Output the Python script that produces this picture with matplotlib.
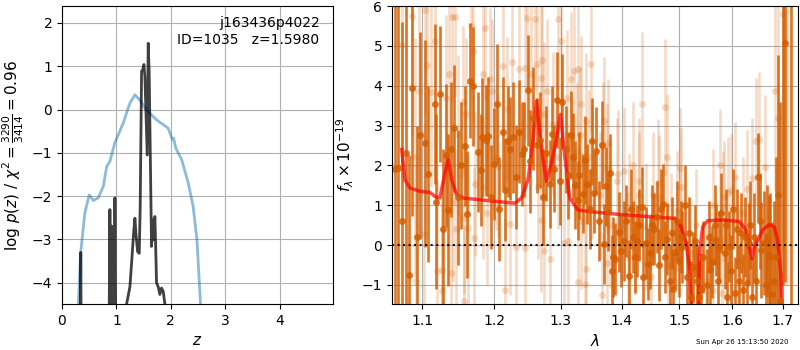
import numpy as np
import matplotlib
matplotlib.use("Agg")
import matplotlib.pyplot as plt
from matplotlib.ticker import NullLocator

# p(z) curves (left panel)
prior_z = [0.27, 0.30, 0.343, 0.42, 0.50, 0.575, 0.666, 0.76, 0.82, 0.88, 0.97,
           1.125, 1.248, 1.34, 1.43, 1.55, 1.74, 1.95, 2.03, 2.05, 2.09, 2.20,
           2.32, 2.41, 2.48, 2.545, 2.57]
prior_logp = [-5.0, -4.49, -3.31, -2.39, -1.97, -2.10, -2.04, -1.77, -1.32, -1.20, -0.77,
              -0.31, 0.15, 0.34, 0.22, -0.01, -0.24, -0.43, -0.70, -0.66, -0.89, -1.16,
              -1.70, -2.24, -3.01, -4.49, -5.0]

pz_z = [0.32, 0.335, 0.345, 0.355, 0.37,
        0.86, 0.88, 0.89, 0.90, 0.912, 0.93, 0.96, 0.972, 0.99,
        1.17, 1.187, 1.248, 1.278, 1.297, 1.32, 1.34, 1.358, 1.389, 1.419,
        1.437, 1.462, 1.47, 1.485, 1.505, 1.523, 1.566, 1.584, 1.602, 1.627,
        1.645, 1.664, 1.688, 1.706, 1.72, 1.737, 1.77, 1.798, 1.829, 1.86,
        1.89, 1.91]
pz_logp = [-6, -6, -3.3, -6, -6,
           -6, -2.31, -4.5, -4.5, -2.69, -6, -6, -2.04, -6,
           -6, -4.49, -4.09, -3.55, -3.2, -2.78, -2.51, -2.86, -3.28, -3.32,
           -2.24, 0.88, 0.9, 0.92, 1.04, 0.77, -1.05, 1.53, 0.83, -1.47,
           -3.16, -2.55, -3.01, -2.47, -3.1, -4.0, -4.1, -4.27, -4.12, -4.2,
           -4.49, -6]

# spectrum (right panel), dark beam
lam_dark = [
    1.064, 1.068, 1.073, 1.078, 1.083, 1.087, 1.093, 1.097, 1.104, 1.108,
    1.117, 1.119, 1.124, 1.128, 1.132, 1.135, 1.139, 1.143, 1.148, 1.153,
    1.158, 1.161, 1.166, 1.170, 1.176, 1.181, 1.183, 1.188, 1.191, 1.195,
    1.199, 1.204, 1.207, 1.212, 1.215, 1.220, 1.223, 1.228, 1.232, 1.237,
    1.241, 1.244, 1.250, 1.253, 1.258, 1.263, 1.268, 1.273, 1.277, 1.283,
    1.286, 1.290, 1.294, 1.299, 1.303, 1.308, 1.311, 1.316, 1.319, 1.323,
    1.327, 1.330, 1.335, 1.339, 1.343, 1.347, 1.350, 1.354, 1.357, 1.362,
    1.367, 1.370, 1.373, 1.376, 1.380, 1.383, 1.385, 1.389, 1.395, 1.398,
    1.404, 1.407, 1.412, 1.415, 1.419, 1.422, 1.425, 1.429, 1.434, 1.437,
    1.441, 1.445, 1.449, 1.452, 1.456, 1.460, 1.465, 1.468, 1.472, 1.475,
    1.479, 1.483, 1.487, 1.489, 1.492, 1.497, 1.500, 1.503, 1.506, 1.511,
    1.515, 1.519, 1.522, 1.526, 1.530, 1.533, 1.537, 1.541, 1.545, 1.551,
    1.555, 1.558, 1.562, 1.566, 1.569, 1.572, 1.575, 1.579, 1.585, 1.588,
    1.590, 1.594, 1.598, 1.601, 1.605, 1.609, 1.613, 1.616, 1.620, 1.624,
    1.628, 1.632, 1.635, 1.638, 1.642, 1.646, 1.650, 1.654, 1.657, 1.662,
    1.666, 1.669, 1.672, 1.675, 1.678, 1.682, 1.686, 1.690, 1.695, 1.700,
    1.706, 1.717]
flux_dark = [
    1.9, 1.94, 0.6, 2.3, -0.75, 3.94, 0.2, 2.76, 2.55, 1.78,
    3.54, 1.09, 3.79, 0.4, 2.25, 0.88, 2.4, 2.93, 1.2, 2.0,
    2.48, 0.77, 4.13, 3.98, 2.34, 1.88, 2.7, 2.63, 2.73, 1.2,
    2.03, 3.54, 0.91, 2.83, 1.39, 2.6, 2.42, 2.7, 1.71, 2.85,
    2.29, 2.4, 3.88, 2.1, 3.18, 2.5, 2.63, 1.2, 2.3, 1.54,
    2.8, 1.92, 3.64, 1.6, 3.6, 2.4, 1.75, 2.76, 2.22, 1.5,
    1.12, 1.75, 1.29, 2.13, 1.54, 0.9, 2.6, 1.3, 2.37, 0.6,
    2.51, 0.03, 1.47, 0.84, 1.8, -0.65, -0.3, -0.35, 0.32, -0.15,
    0.11, 0.6, -0.77, 0.9, 0.2, -0.3, 0.1, 0.5, 0.95, -0.8,
    0.05, -0.48, -0.2, 0.5, 0.4, 0.7, -0.5, 0.9, 1.03, -0.3,
    0.15, -0.9, 0.3, -1.1, -0.18, 0.6, -0.4, 0.2, -0.05, 1.0,
    -0.8, 0.3, -1.3, -0.56, 0.1, -0.9, -1.3, -1.1, -0.3, -1.0,
    0.2, -0.6, -0.43, 0.5, 0.13, -0.9, -0.04, 0.8, -0.21, 0.5,
    -1.3, -0.04, -0.66, 0.9, -1.2, 0.4, -0.9, 0.3, -1.12, 0.2,
    -0.95, 0.05, 0.5, -1.3, 0.2, -0.9, 1.72, 0.6, -0.13, 0.05,
    -1.0, 0.1, -0.24, -0.3, -1.23, -0.9, -0.3, 1.26, -1.4, 7.0,
    5.07, -3.0]
err_dark = [
    5.0, 4.5, 5.0, 4.0, 3.0, 3.2, 2.8, 2.6, 2.6, 2.2,
    2.0, 2.2, 1.7, 2.0, 1.8, 1.9, 1.7, 1.6, 1.7, 1.6,
    1.5, 1.6, 1.45, 1.5, 1.5, 1.4, 1.5, 1.4, 1.5, 1.3,
    1.4, 1.5, 1.3, 1.4, 1.3, 1.4, 1.3, 1.4, 1.3, 1.3,
    1.3, 1.2, 1.4, 1.3, 1.3, 1.2, 1.2, 1.2, 1.2, 1.1,
    1.2, 1.1, 1.2, 1.1, 1.2, 1.1, 1.1, 1.1, 1.1, 1.1,
    1.0, 1.1, 1.0, 1.1, 1.0, 1.0, 1.1, 1.0, 1.1, 1.0,
    1.1, 1.0, 1.0, 1.0, 1.0, 0.9, 1.0, 0.9, 1.0, 0.9,
    1.0, 0.9, 0.9, 1.0, 0.9, 0.9, 0.9, 0.9, 1.0, 0.9,
    0.9, 0.9, 0.9, 1.0, 0.9, 0.9, 0.9, 1.0, 1.0, 0.9,
    0.9, 0.9, 0.9, 0.9, 0.9, 1.0, 0.9, 0.9, 0.9, 1.0,
    0.9, 0.9, 0.9, 0.9, 0.9, 0.9, 0.9, 0.9, 0.9, 0.9,
    0.9, 0.9, 0.9, 1.0, 0.9, 0.9, 0.9, 1.0, 0.9, 0.9,
    0.9, 0.9, 0.9, 1.0, 0.9, 1.0, 0.9, 1.0, 0.9, 1.0,
    1.0, 1.0, 1.1, 1.0, 1.1, 1.1, 1.1, 1.2, 1.2, 1.3,
    1.3, 1.4, 1.5, 1.6, 1.8, 2.0, 2.5, 3.5, 5.0, 8.0,
    6.0, 10.0]

# light beam
lam_light = [
    1.073, 1.0865, 1.091, 1.092, 1.0953, 1.102, 1.1041, 1.1065, 1.111, 1.117,
    1.120, 1.1262, 1.127, 1.1318, 1.1365, 1.1387, 1.140, 1.141, 1.1447, 1.1456,
    1.148, 1.1558, 1.1565, 1.157, 1.159, 1.1621, 1.1668, 1.1696, 1.1704, 1.1728,
    1.1834, 1.1842, 1.1866, 1.1897, 1.1935, 1.196, 1.2028, 1.2052, 1.212, 1.2154,
    1.218, 1.223, 1.2255, 1.232, 1.237, 1.2455, 1.246, 1.248, 1.254, 1.261,
    1.2642, 1.2652, 1.2693, 1.2702, 1.271, 1.2742, 1.2745, 1.2792, 1.2828, 1.2877,
    1.2953, 1.2963, 1.3011, 1.3055, 1.3108, 1.311, 1.3161, 1.3216, 1.3258, 1.327,
    1.3275, 1.3312, 1.3322, 1.3325, 1.3387, 1.3403, 1.3405, 1.3457, 1.3495, 1.351,
    1.3632, 1.3667, 1.3677, 1.3709, 1.3748, 1.375, 1.3774, 1.3801, 1.3925, 1.3935,
    1.4035, 1.41, 1.4124, 1.4194, 1.4229, 1.4289, 1.430, 1.4347, 1.4418, 1.45,
    1.4536, 1.4624, 1.4641, 1.474, 1.4783, 1.48, 1.4853, 1.4969, 1.5013, 1.5043,
    1.52, 1.5309, 1.55, 1.5629, 1.5635, 1.5764, 1.58, 1.5827, 1.5845, 1.5925,
    1.5968, 1.6041, 1.61, 1.62, 1.6288, 1.6376, 1.6456, 1.6522, 1.6641, 1.67,
    1.6841, 1.6907, 1.700, 1.710]
flux_light = [
    5.03, 5.75, 2.2, -0.9, 3.87, 0.28, 5.9, 4.53, 3.85, 5.13,
    -0.66, -1.16, -0.62, 3.68, 4.3, -0.7, 5.72, 1.1, 5.72, 0.4,
    2.76, 3.6, 0.67, -1.4, 3.3, 0.42, 5.51, 4.87, 0.17, 1.53,
    4.3, 1.45, 5.45, 0.8, 4.16, 3.87, 2.19, 1.98, 4.5, -1.14,
    3.42, 0.54, 4.6, -0.04, 4.43, 4.45, -0.08, 5.7, 4.3, 5.68,
    4.55, 1.45, 4.2, 0.63, 4.65, 3.3, -0.14, 3.87, -0.36, 3.05,
    2.2, 5.68, 5.12, 0.06, 3.7, 0.1, 4.16, 4.37, 2.37, 4.43,
    -0.93, 2.77, 3.55, 0.6, -0.97, 3.11, -0.61, 2.2, 4.55, 1.85,
    1.25, -1.26, 2.5, 3.12, 1.94, -0.46, 2.57, 0.51, 1.6, 1.79,
    1.86, -0.3, 0.68, 2.0, 0.34, 1.6, 1.25, 3.54, 0.46, -0.8,
    1.25, 1.57, 1.17, 3.46, 2.2, -0.5, 0.32, 0.86, 1.94, 1.45,
    -0.2, 0.5, -0.9, 1.0, -1.14, 2.02, -1.2, 0.97, 1.2, 1.3,
    1.39, 1.7, -0.4, 0.8, 1.4, 1.68, 2.6, 2.65, 1.96, -1.1,
    3.86, 3.2, 5.8, 7.0]
err_light = [
    3.5, 3.0, 3.0, 3.0, 2.8, 2.6, 2.6, 2.5, 2.4, 2.3,
    2.3, 2.2, 2.2, 2.1, 2.1, 2.0, 2.1, 2.0, 2.0, 2.0,
    2.0, 1.9, 1.9, 1.9, 1.9, 1.9, 1.9, 1.8, 1.8, 1.8,
    1.8, 1.8, 1.8, 1.8, 1.8, 1.8, 1.8, 1.8, 1.8, 1.8,
    1.8, 1.8, 1.8, 1.8, 1.8, 1.8, 1.8, 1.8, 1.8, 1.8,
    1.8, 1.8, 1.8, 1.8, 1.8, 1.8, 1.8, 1.8, 1.8, 1.8,
    1.8, 1.8, 1.8, 1.8, 1.7, 1.7, 1.7, 1.7, 1.7, 1.7,
    1.7, 1.7, 1.7, 1.7, 1.7, 1.7, 1.7, 1.7, 1.7, 1.7,
    1.6, 1.6, 1.6, 1.6, 1.6, 1.6, 1.6, 1.6, 1.6, 1.6,
    1.6, 1.6, 1.6, 1.6, 1.6, 1.6, 1.6, 1.8, 1.6, 1.6,
    1.6, 1.6, 1.6, 1.7, 1.6, 1.5, 1.5, 1.5, 1.5, 1.5,
    1.4, 1.4, 1.4, 1.4, 1.4, 1.4, 1.4, 1.4, 1.4, 1.4,
    1.4, 1.4, 1.4, 1.4, 1.5, 1.5, 1.6, 1.7, 1.8, 2.0,
    2.5, 3.0, 6.0, 8.0]

# best-fit model
model_lam = [1.073, 1.0773, 1.0838, 1.097, 1.1103, 1.117, 1.1237, 1.1305, 1.135, 1.1397,
             1.1466, 1.1558, 1.1936, 1.2301, 1.2401, 1.25, 1.2576, 1.2628, 1.2678, 1.2729,
             1.2781, 1.2858, 1.2936, 1.2999, 1.3066, 1.3145, 1.3277, 1.3465, 1.4017, 1.4918,
             1.5039, 1.513, 1.519, 1.5251, 1.5343, 1.5375, 1.5436, 1.5529, 1.5813, 1.6135,
             1.6265, 1.633, 1.6383, 1.6428, 1.6494, 1.6594, 1.6729, 1.683, 1.6897, 1.6966,
             1.7013]
model_flux = [2.4, 1.64, 1.43, 1.35, 1.32, 1.22, 1.18, 1.81, 2.16, 1.64,
              1.26, 1.18, 1.11, 1.05, 1.18, 1.64, 2.65, 3.62, 2.82, 2.15,
              1.6, 2.06, 2.65, 3.28, 2.23, 1.18, 0.88, 0.84, 0.76, 0.67,
              0.46, 0.04, -0.55, -2.5, -2.5, -0.21, 0.46, 0.61, 0.63, 0.59,
              0.38, -0.04, -0.34, -0.04, 0.11, 0.38, 0.51, 0.46, 0.13, -0.72,
              -2.5]

lam_ticks = [1.1, 1.2, 1.3, 1.4, 1.5, 1.6, 1.7]
g141_color = (0.835, 0.369, 0.0)

fig = plt.figure(figsize=(8, 3.5), dpi=100)
ax1 = fig.add_axes([0.0775, 0.1314, 0.3388, 0.8514])
ax2 = fig.add_axes([0.49, 0.1314, 0.5075, 0.8514])

# left: p(z)
ax1.plot(prior_z, prior_logp, color='#1f77b4', alpha=0.5, lw=2)
ax1.plot(pz_z, pz_logp, color='k', alpha=0.75, lw=2)
ax1.set_xlim(0, 4.98)
ax1.set_ylim(-4.49, 2.39)
ax1.set_xticks([0, 1, 2, 3, 4])
ax1.set_yticks([-4, -3, -2, -1, 0, 1, 2])
ax1.grid()
ax1.set_xlabel(r'$z$', fontsize=11)
ax1.set_ylabel(r'log $p(z)$ / $\chi^2=\frac{3290}{3414}=0.96$', fontsize=11)
ax1.text(0.95, 0.965, 'j163436p4022\nID=1035   z=1.5980', ha='right', va='top',
         transform=ax1.transAxes, fontsize=10)

# right: spectrum
ax2.errorbar(lam_light, flux_light, yerr=err_light, color=g141_color, alpha=0.22,
             marker='o', ms=5, mew=0, linestyle='None', elinewidth=1.9)
ax2.errorbar(lam_dark, flux_dark, yerr=err_dark, color=g141_color, alpha=0.85,
             marker='o', ms=5, mew=0, linestyle='None', elinewidth=1.9)
ax2.plot(model_lam, model_flux, color='red', alpha=0.7, lw=2.5)
ax2.axhline(0, color='k', linestyle=':', lw=1.5, alpha=0.9)
ax2.set_xscale('log')
ax2.set_xlim(1.0605, 1.732)
ax2.set_ylim(-1.48, 6)
ax2.set_xticks(lam_ticks)
ax2.set_xticklabels([str(t) for t in lam_ticks])
ax2.xaxis.set_minor_locator(NullLocator())
ax2.grid()
ax2.set_xlabel(r'$\lambda$', fontsize=11)
ax2.set_ylabel(r'$f_\lambda \times 10^{-19}$', fontsize=11)

fig.text(0.985, 0.015, 'Sun Apr 26 15:13:50 2020', ha='right', va='bottom', fontsize=5)

fig.savefig('out.png', dpi=100)
